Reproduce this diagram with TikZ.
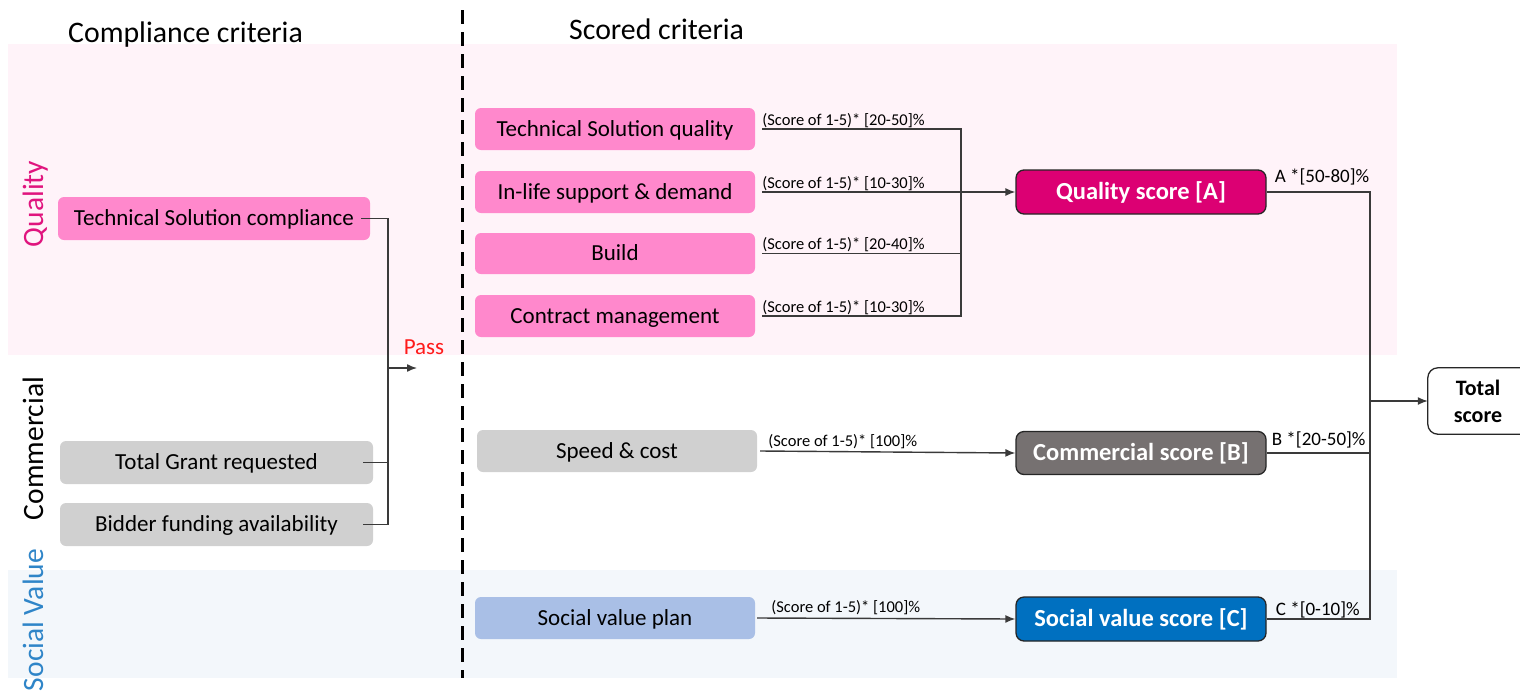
\documentclass[tikz,border=0pt]{standalone}
\usepackage{fontspec}
\setmainfont{Carlito}
\usetikzlibrary{arrows.meta}

\definecolor{bandpink}{HTML}{FFF3F9}
\definecolor{bandblue}{HTML}{F3F7FB}
\definecolor{critpink}{HTML}{FF88CC}
\definecolor{critgrey}{HTML}{D0D0D0}
\definecolor{critblue}{HTML}{A9BFE6}
\definecolor{qualfill}{HTML}{DC0073}
\definecolor{commfill}{HTML}{767171}
\definecolor{socfill}{HTML}{0070C0}
\definecolor{qualtext}{HTML}{E0147E}
\definecolor{soctext}{HTML}{2F85C8}
\definecolor{passred}{HTML}{FF1A1A}
\definecolor{linegray}{HTML}{3A3A3A}
\definecolor{borderdark}{HTML}{262626}

\begin{document}
\begin{tikzpicture}[x=1pt,y=-1pt,
  conn/.style={draw=linegray, line width=1.4pt},
  arr/.style={conn, -{Latex[length=10pt,width=8pt]}},
  box/.style={rounded corners=6pt, inner sep=0pt, minimum width=280pt,
    minimum height=42pt, text height=14.8pt, text depth=0pt,
    font=\fontsize{23}{27}\selectfont},
  pinkbox/.style={box, fill=critpink},
  greybox/.style={box, fill=critgrey},
  bluebox/.style={box, fill=critblue},
  scorebox/.style={rounded corners=8pt, inner sep=0pt, minimum width=250pt,
    minimum height=44pt, draw=borderdark, line width=1.3pt, text=white,
    text height=15.8pt, text depth=0pt,
    font=\fontsize{24.5}{28}\selectfont\bfseries},
  lbl/.style={inner sep=0pt, anchor=base west, font=\fontsize{16.5}{20}\selectfont},
  wlbl/.style={inner sep=0pt, anchor=base west, font=\fontsize{19}{22}\selectfont},
  head/.style={inner sep=0pt, anchor=base west, font=\fontsize{29.8}{34}\selectfont},
  side/.style={inner sep=0pt, anchor=base, rotate=90, font=\fontsize{29.5}{34}\selectfont},
]
\useasboundingbox (0,0) rectangle (1520,691);

% background bands
\fill[bandpink] (8,44) rectangle (1397,355);
\fill[bandblue] (8,570) rectangle (1397,678);

% column divider
\draw[line width=3pt, dash pattern=on 14pt off 8pt] (462,10) -- (462,678);

% headings
\node[head] (hcomp) at (68,42) {Compliance criteria};
\node[head] (hscore) at (569,39) {Scored criteria};

% side labels
\node[side, text=qualtext] (squal) at (43,204) {Quality};
\node[side] (scomm) at (43,448.5) {Commercial};
\node[side, text=soctext] (ssoc) at (43,620) {Social Value};

% compliance criteria
\node[pinkbox, minimum width=312pt, minimum height=43pt] (tsc) at (214,218.5) {Technical Solution compliance};
\node[greybox, minimum width=313pt, minimum height=43pt] (tgr) at (216.5,462.5) {Total Grant requested};
\node[greybox, minimum width=313pt, minimum height=43pt] (bfa) at (216.5,524.5) {Bidder funding availability};

\coordinate (pj) at (388,368);
\coordinate (pt) at (417,368);
\draw[conn] ([xshift=-9pt]tsc.east) -| (pj);
\draw[conn] ([xshift=-10pt]tgr.east) -| (pj);
\draw[conn] ([xshift=-10pt]bfa.east) -| (pj);
\draw[arr] (pj) -- (pt);
\node[inner sep=0pt, text=passred, font=\fontsize{23}{27}\selectfont] (pass) at (424,347) {Pass};

% scored criteria
\node[pinkbox] (tsq) at (615,129) {Technical Solution quality};
\node[pinkbox] (ils) at (615,192) {In-life support \& demand};
\node[pinkbox, minimum height=41pt] (bld) at (615,253.5) {Build};
\node[pinkbox] (cmg) at (615,316) {Contract management};
\node[greybox] (spc) at (617,451) {Speed \& cost};
\node[bluebox] (svp) at (615,618) {Social value plan};

% category scores
\node[scorebox, fill=qualfill] (qs) at (1141,192) {Quality score [A]};
\node[scorebox, fill=commfill, minimum height=43pt] (cs) at (1141,453) {Commercial score [B]};
\node[scorebox, fill=socfill] (svs) at (1141,619) {Social value score [C]};

% total score (its frame runs past the right edge)
\node[minimum width=100pt, minimum height=66pt, inner sep=0pt, align=center,
  font=\fontsize{22}{27}\selectfont\bfseries] (tot) at (1478,401) {Total\\score};
\draw[draw=borderdark, line width=1.3pt, rounded corners=10pt]
  (tot.north west) rectangle ([xshift=30pt]tot.south east);

% quality weighting
\coordinate (qj) at (961,192);
\draw[conn] ([xshift=7pt]tsq.east) -| (qj);
\draw[conn] ([xshift=7pt]bld.east) -| (qj);
\draw[conn] ([xshift=7pt]cmg.east) -| (qj);
\draw[arr] ([xshift=7pt]ils.east) -- (qs.west);
\node[lbl] (ltsq) at ([xshift=7pt,yshift=4pt]tsq.east) {(Score of 1-5)* [20-50]\%};
\node[lbl] (lils) at ([xshift=7pt,yshift=4pt]ils.east) {(Score of 1-5)* [10-30]\%};
\node[lbl] (lbld) at ([xshift=7pt,yshift=4pt]bld.east) {(Score of 1-5)* [20-40]\%};
\node[lbl] (lcmg) at ([xshift=7pt,yshift=4pt]cmg.east) {(Score of 1-5)* [10-30]\%};

% commercial and social value weighting
\draw[arr] ([xshift=3pt]spc.east) -- (cs.west);
\node[lbl] (lspc) at ([xshift=11pt,yshift=5pt]spc.east) {(Score of 1-5)* [100]\%};
\draw[arr] ([xshift=2pt]svp.east) -- (svs.west);
\node[lbl] (lsvp) at ([xshift=16pt,yshift=6pt]svp.east) {(Score of 1-5)* [100]\%};

% total score
\coordinate (tj) at (1370,401);
\draw[conn] (qs.east) -| (tj);
\draw[conn] (cs.east) -| (tj);
\draw[conn] (svs.east) -| (tj);
\draw[arr] (tj) -- (tot.west);
\node[wlbl] (la) at ([xshift=8pt,yshift=10pt]qs.east) {A *[50-80]\%};
\node[wlbl] (lb) at ([xshift=5pt,yshift=8pt]cs.east) {B *[20-50]\%};
\node[wlbl] (lc) at ([xshift=9pt,yshift=4pt]svs.east) {C *[0-10]\%};
\end{tikzpicture}
\end{document}
